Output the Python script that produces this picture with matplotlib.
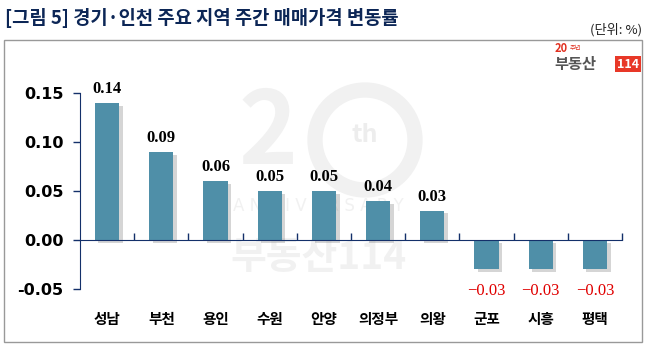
import matplotlib.pyplot as plt
import matplotlib.patheffects as pe
from matplotlib.patches import Rectangle, Ellipse
import numpy as np

plt.rcParams['font.family'] = ['Noto Sans CJK KR', 'DejaVu Sans']

regions = ['성남', '부천', '용인', '수원', '안양', '의정부', '의왕', '군포', '시흥', '평택']
changes = [0.14, 0.09, 0.06, 0.05, 0.05, 0.04, 0.03, -0.03, -0.03, -0.03]
y_ticks = [-0.05, 0.00, 0.05, 0.10, 0.15]

title = '[그림 5] 경기·인천 주요 지역 주간 매매가격 변동률'
unit = '(단위: %)'

navy = '#14306a'
bar_col = '#4f8fa8'
wm = '#f1f1f1'

fig = plt.figure(figsize=(6.56, 3.62), dpi=100)
fig.patch.set_facecolor('white')

# outer frame
fig.patches.append(Rectangle((4 / 656, 1 - 342 / 362), 638 / 656, 302 / 362,
                             transform=fig.transFigure, fill=False,
                             edgecolor='#999999', linewidth=1.0))

fig.text(5 / 656, 1 - 18 / 362, title, fontsize=13.5, fontweight='black',
         color='#0c2656', va='center', ha='left')
fig.text(642 / 656, 1 - 30 / 362, unit, fontsize=9.5, color='#222222',
         va='center', ha='right')

# logo
fig.text(555 / 656, 1 - 49 / 362, '20', fontsize=8, fontweight='bold',
         color='#e03020', va='center', ha='left')
fig.text(570 / 656, 1 - 48 / 362, '주년', fontsize=4.5, color='#e03020',
         va='center', ha='left')
fig.text(554 / 656, 1 - 64 / 362, '부동산', fontsize=11, fontweight='bold',
         color='#555555', va='center', ha='left')
fig.text(628 / 656, 1 - 64 / 362, '114', fontsize=9, fontweight='bold',
         color='white', va='center', ha='center',
         bbox=dict(boxstyle='square,pad=0.15', fc='#e83828', ec='none'))

# watermark (20th anniversary logo), kept behind the axes
fig.text(268 / 656, 1 - 135 / 362, '2', fontsize=72, fontweight='bold',
         color=wm, va='center', ha='center', zorder=-2)
fig.patches.append(Ellipse((365 / 656, 1 - 140 / 362), 100 / 656, 100 / 362,
                           transform=fig.transFigure, fill=False,
                           edgecolor=wm, linewidth=11, zorder=-2))
fig.text(365 / 656, 1 - 135 / 362, 'th', fontsize=18, fontweight='bold',
         color='#ededed', va='center', ha='center', zorder=-2)
fig.text(318 / 656, 1 - 206 / 362, 'A N N I V E R S A R Y', fontsize=12,
         color=wm, va='center', ha='center', zorder=-2,
         family='DejaVu Sans')
fig.text(318 / 656, 1 - 258 / 362, '부동산114', fontsize=28, fontweight='bold',
         color=wm, va='center', ha='center', zorder=-2)

ax = fig.add_axes([80 / 656, 1 - 289 / 362, 542 / 656, 196 / 362])
ax.patch.set_alpha(0)

x = np.arange(len(regions))
bars = ax.bar(x, changes, width=0.45, color=bar_col, zorder=3)
for b in bars:
    b.set_path_effects([pe.SimplePatchShadow(offset=(2.5, -2),
                                             shadow_rgbFace='#777777', alpha=0.3),
                        pe.Normal()])

ax.set_xlim(-0.5, len(regions) - 0.5)
ax.set_ylim(-0.05, 0.15)
ax.set_yticks(y_ticks)
ax.set_yticklabels([f'{v:.2f}' for v in y_ticks], fontsize=11.5,
                   fontweight='bold', family='Liberation Sans Narrow')

for s in ['top', 'right']:
    ax.spines[s].set_visible(False)
ax.spines['left'].set_color(navy)
ax.spines['bottom'].set_color(navy)
ax.spines['bottom'].set_position(('data', 0))
ax.spines['bottom'].set_zorder(4)
ax.tick_params(axis='y', colors=navy, direction='out', length=5, width=1,
               labelcolor='black', pad=7)

ax.set_xticks(x)
ax.set_xticklabels(regions, fontsize=10.5, fontweight='bold')
ax.set_xticks(np.arange(len(regions)) + 0.5, minor=True)
ax.tick_params(axis='x', which='major', length=0, pad=51)
ax.tick_params(axis='x', which='minor', direction='in', length=5,
               color=navy, width=1)

for xi, v in zip(x, changes):
    if v >= 0:
        ax.text(xi, v + 0.006, f'{v:.2f}', ha='center', va='bottom',
                fontsize=12, fontweight='bold', family='Liberation Serif',
                zorder=5)
    else:
        ax.text(xi, -0.0525, f'\u2212{abs(v):.2f}', ha='center', va='center',
                fontsize=12, color='#e00000', family='Liberation Serif',
                zorder=5)

fig.savefig('out.png', dpi=100)
